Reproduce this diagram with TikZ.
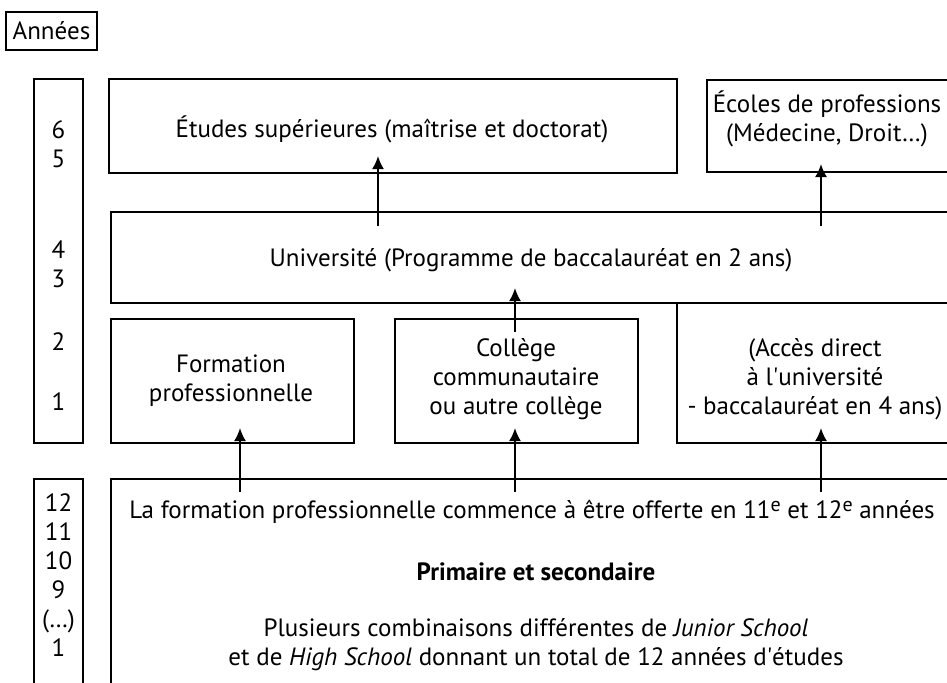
\documentclass[tikz,border=0pt]{standalone}
\usepackage{fontspec}
\setmainfont{PT Sans}
\usetikzlibrary{arrows.meta,calc,fit}
\tikzset{%
  box/.style={draw,line width=1pt,inner sep=0},
  lbl/.style={align=center,inner sep=0,font=\fontsize{12.5}{14.5}\selectfont},
  uparrow/.style={draw,line width=1pt,-{Latex[length=6.5pt,width=6pt]}}
}
\newcommand{\ordsup}[1]{\raisebox{0.55ex}{\fontsize{10}{10}\selectfont #1}}
\begin{document}
\begin{tikzpicture}[x=0.5pt,y=-0.5pt]
    \clip (0,0) rectangle (947,682);
    % boxes
    \node[box,fit={(6,12) (97,50)}] (annees) {};
    \node[box,fit={(34,79) (83,443)}] (yrsup) {};
    \node[box,fit={(34,479) (83,700)}] (yrsec) {};
    \node[box,fit={(109,79) (677,173)}] (etudes) {};
    \node[box,fit={(707,80) (960,172)}] (ecoles) {};
    \node[box,fit={(111,212) (960,303)}] (univ) {};
    \node[box,fit={(111,319) (354,443)}] (formation) {};
    \node[box,fit={(395,319) (638,443)}] (college) {};
    \node[box,fit={(677,303) (960,443)}] (acces) {};
    \node[box,fit={(111,479) (960,700)}] (secondaire) {};
    % texts
    \path
      (annees.center) node[lbl] {Années}
      (58.5,144.5) node[lbl] {6\\5}
      (58.5,264.5) node[lbl] {4\\3}
      (58.5,342) node[lbl] {2}
      (58.5,402) node[lbl] {1}
      (58.5,575) node[lbl] {12\\11\\10\\9\\(…)\\1};
    \path
      (392,129) node[lbl] {Études supérieures (maîtrise et doctorat)}
      (827,119) node[lbl] {Écoles de professions\\(Médecine, Droit…)}
      (531,260) node[lbl] {Université (Programme de baccalauréat en 2 ans)}
      (231,381) node[lbl] {Formation\\professionnelle}
      (516,379) node[lbl] {Collège\\communautaire\\ou autre collège}
      (815,379) node[lbl] {(Accès direct\\à l\textquotesingle université\\- baccalauréat en 4 ans)}
      (532,512) node[lbl] {La formation professionnelle commence à être offerte en 11\ordsup{e} et 12\ordsup{e} années}
      (536,572) node[lbl] {\textbf{Primaire et secondaire}}
      (536,645) node[lbl] {Plusieurs combinaisons différentes de \textit{Junior School}\\et de \textit{High School} donnant un total de 12 années d\textquotesingle études};
    % arrows
    \draw[uparrow] ($(univ.north -| 378,0)+(0,15)$) -- ($(etudes.south -| 378,0)+(0,-18)$);
    \draw[uparrow] ($(univ.north -| 821,0)+(0,15)$) -- ($(ecoles.south -| 821,0)+(0,-9)$);
    \draw[uparrow] ($(college.north -| 515,0)+(0,14)$) -- ($(univ.south -| 515,0)+(0,-16)$);
    \draw[uparrow] ($(secondaire.north -| 240,0)+(0,14)$) -- ($(formation.south -| 240,0)+(0,-16)$);
    \draw[uparrow] ($(secondaire.north -| 515,0)+(0,14)$) -- ($(college.south -| 515,0)+(0,-16)$);
    \draw[uparrow] ($(secondaire.north -| 821,0)+(0,14)$) -- ($(acces.south -| 821,0)+(0,-16)$);
\end{tikzpicture}
\end{document}
